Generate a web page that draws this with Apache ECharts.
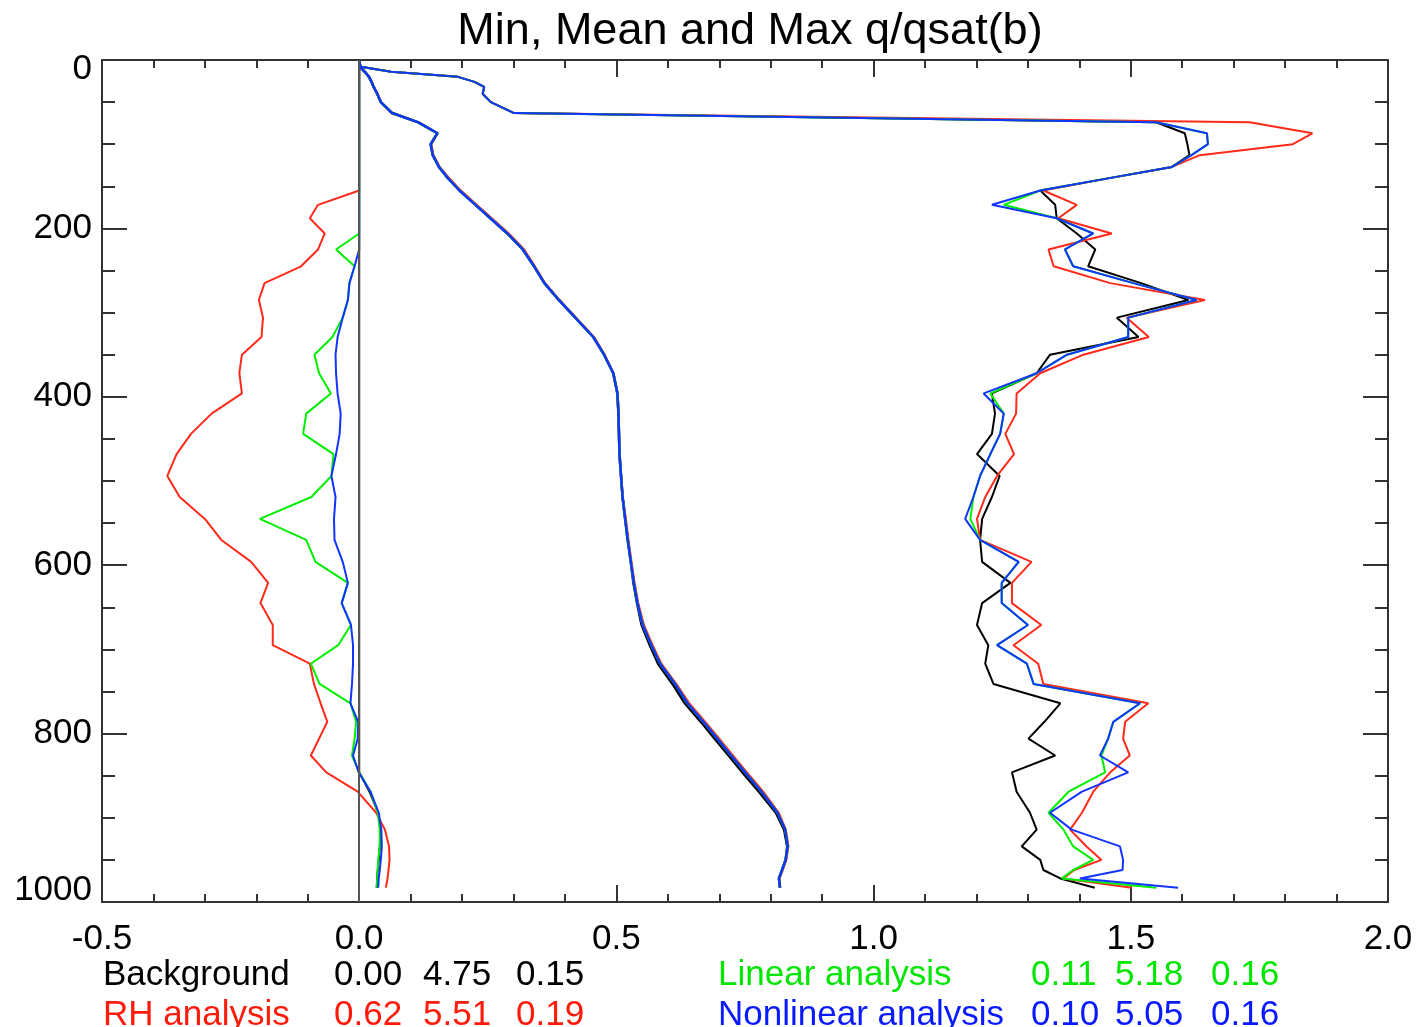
<!DOCTYPE html>
<html>
<head>
<meta charset="utf-8">
<script src="https://cdn.jsdelivr.net/npm/echarts@6/dist/echarts.min.js"></script>
<style>
html,body{margin:0;padding:0;background:#fff;}
#chart{width:1428px;height:1027px;}
</style>
</head>
<body>
<div id="chart"></div>
<script>
// pressure levels (hPa)
const levels = [1, 8, 14, 20, 26, 32, 40, 50, 63, 74, 87, 100, 113, 127, 140, 155, 172, 188, 206, 225, 245, 265, 285, 306, 329, 350, 372, 396, 420, 444, 468, 494, 519, 545, 570, 596, 621, 645, 671, 695, 717, 741, 764, 786, 806, 826, 846, 869, 894, 914, 934, 950, 962, 972, 983];

// Background (black)
const minBackground = [0,0,0,0,0,0,0,0,0,0, 0,0,0,0,0,0,0,0,0,0, 0,0,0,0,0,0,0,0,0,0, 0,0,0,0,0,0,0,0,0,0, 0,0,0,0,0,0,0,0.020,0.037,0.042, 0.040,0.038,0.036,0.035,0.034];
const meanBackground = [0.000,0.001,0.011,0.019,0.024,0.028,0.035,0.042,0.064,0.115, 0.152,0.139,0.143,0.155,0.172,0.195,0.226,0.255,0.288,0.318, 0.340,0.360,0.388,0.420,0.455,0.476,0.494,0.502,0.504,0.505, 0.506,0.509,0.512,0.517,0.522,0.528,0.533,0.540,0.549,0.565, 0.581,0.609,0.633,0.664,0.691,0.718,0.745,0.777,0.810,0.826, 0.832,0.829,0.822,0.816,0.818];
const maxBackground = [0.000,0.003,0.062,0.192,0.224,0.243,0.240,0.256,0.301,1.549, 1.605,1.610,1.614,1.580,1.461,1.324,1.353,1.356,1.395,1.431, 1.417,1.520,1.612,1.473,1.515,1.343,1.317,1.230,1.236,1.230, 1.201,1.245,1.230,1.211,1.207,1.211,1.266,1.211,1.201,1.223, 1.217,1.233,1.363,1.332,1.301,1.353,1.269,1.278,1.304,1.317, 1.288,1.324,1.330,1.363,1.430];

// RH analysis (red)
const minRH = [0,0,0,0,0,0,0,0,0,0, 0,0,0,0,0,0,-0.080,-0.096,-0.067,-0.080, -0.113,-0.184,-0.195,-0.187,-0.190,-0.228,-0.233,-0.228,-0.287,-0.327, -0.355,-0.373,-0.349,-0.300,-0.268,-0.210,-0.177,-0.192,-0.168,-0.168, -0.096,-0.088,-0.075,-0.062,-0.078,-0.094,-0.064,-0.003,0.033,0.050, 0.058,0.059,0.057,0.055,0.052];
const meanRH = [0.000,0.001,0.011,0.019,0.024,0.028,0.035,0.042,0.064,0.115, 0.152,0.140,0.144,0.156,0.174,0.197,0.228,0.257,0.290,0.320, 0.341,0.361,0.389,0.421,0.456,0.477,0.494,0.502,0.504,0.505, 0.506,0.509,0.512,0.518,0.523,0.529,0.535,0.542,0.553,0.570, 0.587,0.616,0.641,0.672,0.699,0.726,0.753,0.785,0.815,0.829, 0.834,0.830,0.823,0.817,0.818];
const maxRH = [0.000,0.003,0.062,0.192,0.224,0.243,0.240,0.256,0.301,1.731, 1.853,1.815,1.634,1.580,1.461,1.330,1.395,1.359,1.463,1.340, 1.350,1.460,1.644,1.492,1.535,1.408,1.324,1.278,1.277,1.256, 1.273,1.240,1.217,1.201,1.207,1.307,1.269,1.269,1.326,1.272, 1.320,1.330,1.534,1.489,1.485,1.498,1.460,1.427,1.405,1.382, 1.414,1.443,1.390,1.369,1.502];

// Linear analysis (green)
const minLinear = [0,0,0,0,0,0,0,0,0,0, 0,0,0,0,0,0,0,0,0,-0.045, -0.009,-0.019,-0.022,-0.032,-0.052,-0.087,-0.078,-0.055,-0.103,-0.109, -0.050,-0.054,-0.093,-0.193,-0.103,-0.085,-0.022,-0.034,-0.016,-0.041, -0.094,-0.077,-0.017,-0.006,-0.009,-0.014,0.000,0.022,0.036,0.040, 0.040,0.037,0.036,0.035,0.034];
const meanLinear = [0.000,0.001,0.011,0.019,0.024,0.028,0.035,0.042,0.064,0.115, 0.152,0.139,0.143,0.155,0.172,0.195,0.226,0.255,0.288,0.318, 0.340,0.360,0.388,0.420,0.455,0.476,0.494,0.502,0.504,0.505, 0.506,0.509,0.512,0.517,0.522,0.528,0.534,0.541,0.551,0.568, 0.585,0.614,0.638,0.669,0.696,0.723,0.750,0.782,0.813,0.828, 0.833,0.829,0.822,0.816,0.818];
const maxLinear = [0.000,0.003,0.062,0.192,0.224,0.243,0.240,0.256,0.301,1.549, 1.648,1.650,1.618,1.580,1.461,1.324,1.253,1.356,1.427,1.372, 1.388,1.505,1.628,1.495,1.495,1.376,1.317,1.227,1.253,1.246, 1.227,1.207,1.194,1.188,1.207,1.282,1.249,1.249,1.300,1.240, 1.298,1.311,1.518,1.466,1.456,1.443,1.450,1.379,1.340,1.369, 1.388,1.427,1.388,1.366,1.550];

// Nonlinear analysis (blue)
const minNonlinear = [0,0,0,0,0,0,0,0,0,0, 0,0,0,0,0,0,0,0,0,0, -0.009,-0.019,-0.022,-0.032,-0.042,-0.046,-0.045,-0.042,-0.036,-0.038, -0.045,-0.054,-0.046,-0.049,-0.048,-0.032,-0.022,-0.034,-0.016,-0.012, -0.012,-0.014,-0.017,-0.002,-0.003,-0.012,-0.001,0.022,0.038,0.043, 0.044,0.042,0.040,0.038,0.037];
const meanNonlinear = [0.000,0.001,0.011,0.019,0.024,0.028,0.035,0.042,0.064,0.115, 0.152,0.139,0.143,0.155,0.172,0.195,0.226,0.255,0.288,0.318, 0.340,0.360,0.388,0.420,0.455,0.476,0.494,0.502,0.504,0.505, 0.506,0.509,0.512,0.517,0.522,0.528,0.534,0.541,0.551,0.568, 0.585,0.614,0.638,0.669,0.696,0.723,0.750,0.782,0.813,0.828, 0.833,0.829,0.822,0.816,0.818];
const maxNonlinear = [0.000,0.003,0.062,0.192,0.224,0.243,0.240,0.256,0.301,1.549, 1.648,1.650,1.618,1.580,1.461,1.324,1.230,1.356,1.427,1.372, 1.388,1.505,1.628,1.495,1.495,1.376,1.317,1.214,1.253,1.246, 1.227,1.207,1.194,1.178,1.207,1.282,1.249,1.249,1.300,1.240, 1.298,1.311,1.518,1.466,1.456,1.440,1.495,1.405,1.343,1.385, 1.479,1.485,1.484,1.401,1.592];

// legend text
const legendNames = ['Background', 'RH analysis', 'Linear analysis', 'Nonlinear analysis'];
const legendStats = [['0.00', '4.75', '0.15'], ['0.62', '5.51', '0.19'], ['0.11', '5.18', '0.16'], ['0.10', '5.05', '0.16']];
const xTickLabels = ['-0.5', '0.0', '0.5', '1.0', '1.5', '2.0'];
const yTickLabels = ['0', '200', '400', '600', '800', '1000'];
const titleText = 'Min, Mean and Max q/qsat(b)';

const colors = ['#000000', '#ff2a1a', '#00ee00', '#1234ff'];
const textColors = ['#000000', '#ff1a0a', '#00e600', '#0a1aff'];
const FONT = '"Liberation Sans", Arial, Helvetica, sans-serif';

const groups = [
  [minBackground, meanBackground, maxBackground],
  [minRH, meanRH, maxRH],
  [minLinear, meanLinear, maxLinear],
  [minNonlinear, meanNonlinear, maxNonlinear]
];

const series = [];
groups.forEach((g, gi) => {
  g.forEach((arr, k) => {
    const s = {
      type: 'line',
      name: legendNames[gi] + ['-min', '-mean', '-max'][k],
      data: arr.map((v, i) => [v, levels[i]]),
      showSymbol: false,
      symbol: 'none',
      smooth: false,
      lineStyle: { color: colors[gi], width: k === 1 ? 2.5 : 2 },
      itemStyle: { color: colors[gi] },
      xAxisIndex: 0,
      yAxisIndex: 0,
      silent: true,
      animation: false
    };
    if (gi === 0 && k === 0) {
      s.markLine = {
        silent: true,
        symbol: ['none', 'none'],
        label: { show: false },
        lineStyle: { color: '#555555', width: 2, type: 'solid' },
        data: [{ xAxis: 0 }]
      };
    }
    series.push(s);
  });
});

const axisLineStyle = { color: '#333333', width: 2 };
function xAxisCfg(pos, showLabel) {
  return {
    type: 'value', position: pos, min: -0.5, max: 2.0, interval: 0.5,
    axisLine: { show: true, onZero: false, lineStyle: axisLineStyle },
    axisTick: { show: true, inside: true, length: 17, lineStyle: { color: '#333333', width: 2 } },
    minorTick: { show: true, splitNumber: 5, length: 8, lineStyle: { color: '#333333', width: 2 } },
    splitLine: { show: false },
    axisLabel: {
      show: showLabel, margin: 20, fontSize: 35, fontFamily: FONT, color: '#000',
      formatter: function (v) { const i = Math.round((v + 0.5) / 0.5); return xTickLabels[i] !== undefined ? xTickLabels[i] : ''; }
    }
  };
}
function yAxisCfg(pos, showLabel) {
  return {
    type: 'value', position: pos, min: 0, max: 1000, interval: 200, inverse: true,
    axisLine: { show: true, onZero: false, lineStyle: axisLineStyle },
    axisTick: { show: true, inside: true, length: 25, lineStyle: { color: '#333333', width: 2 } },
    minorTick: { show: true, splitNumber: 4, length: 13, lineStyle: { color: '#333333', width: 2 } },
    splitLine: { show: false },
    axisLabel: {
      show: showLabel, margin: 10, fontSize: 35, fontFamily: FONT, color: '#000',
      formatter: function (v) {
        const i = Math.round(v / 200);
        const t = yTickLabels[i];
        if (v === 0) return '{a|' + t + '}';
        if (v === 1000) return '{b|' + t + '}';
        return t;
      },
      rich: {
        a: { fontSize: 35, fontFamily: FONT, color: '#000', padding: [18, 0, 0, 0] },
        b: { fontSize: 35, fontFamily: FONT, color: '#000', padding: [0, 0, 24, 0] }
      }
    }
  };
}

const graphics = [];
legendNames.forEach((name, i) => {
  const col = i < 2 ? 0 : 1;
  const row = i % 2;
  const y = row === 0 ? 978 : 1018;
  const nameX = col === 0 ? 103 : 718;
  const statX = col === 0 ? [334, 423, 516] : [1031, 1115, 1211];
  graphics.push({ type: 'text', left: nameX, top: y - 20, silent: true,
    style: { text: name, fill: textColors[i], font: '35px ' + FONT } });
  legendStats[i].forEach((s, j) => {
    graphics.push({ type: 'text', left: statX[j], top: y - 20, silent: true,
      style: { text: s, fill: textColors[i], font: '35px ' + FONT } });
  });
});

const chart = echarts.init(document.getElementById('chart'), null, { renderer: 'canvas' });
chart.setOption({
  backgroundColor: '#ffffff',
  animation: false,
  title: {
    text: titleText, left: 745, textAlign: 'center', top: 4,
    textStyle: { fontSize: 45, fontWeight: 'normal', fontFamily: FONT, color: '#000' }
  },
  grid: { left: 102, right: 40, top: 60, bottom: 125, containLabel: false },
  xAxis: [xAxisCfg('bottom', true), xAxisCfg('top', false)],
  yAxis: [yAxisCfg('left', true), yAxisCfg('right', false)],
  series: series,
  graphic: graphics
});
</script>
</body>
</html>
